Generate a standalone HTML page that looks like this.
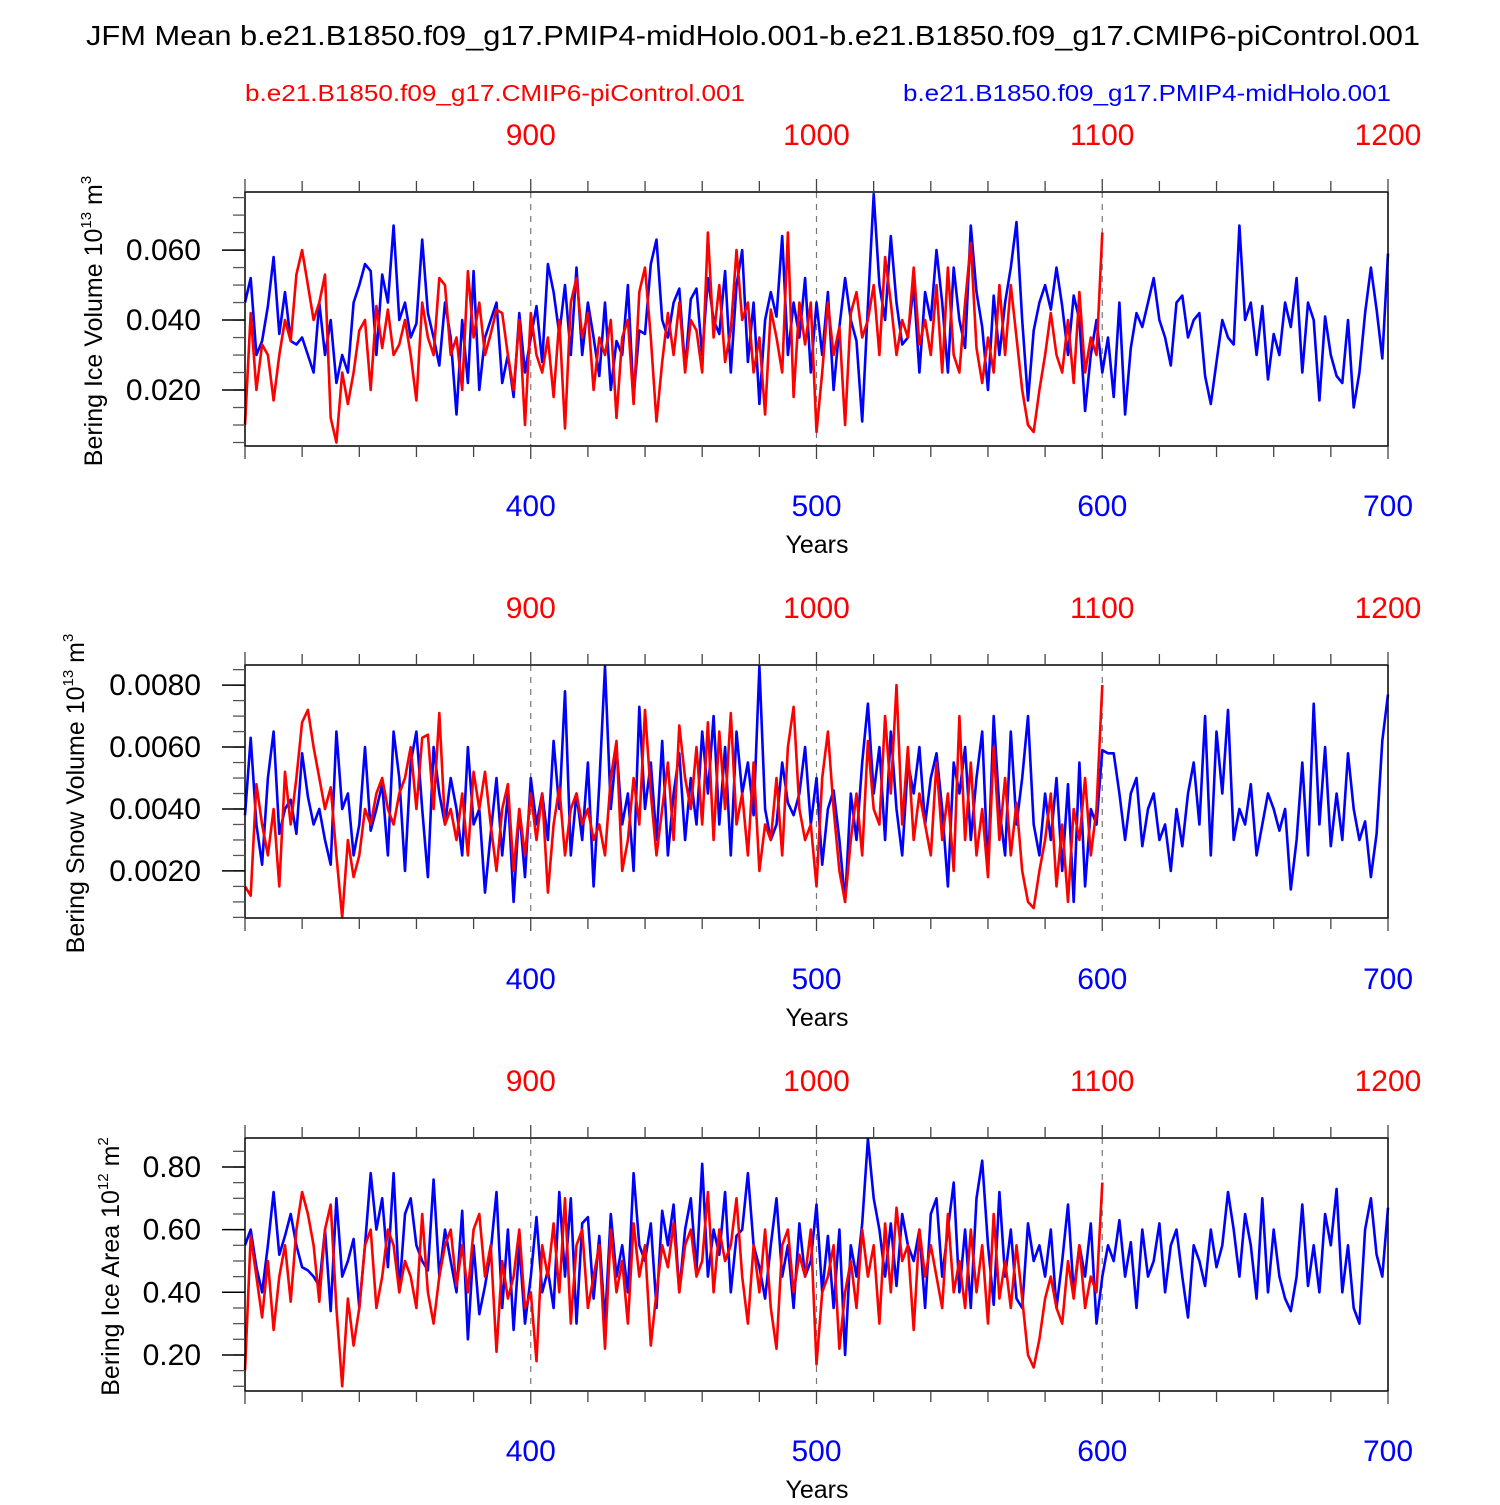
<!DOCTYPE html>
<html><head><meta charset="utf-8"><style>
body{margin:0;background:#fff}
svg text{font-family:"Liberation Sans",sans-serif}
</style></head><body>
<svg id="chart" width="1500" height="1500" xmlns="http://www.w3.org/2000/svg">
<text x="86" y="45" font-size="28" textLength="1334" lengthAdjust="spacingAndGlyphs">JFM Mean b.e21.B1850.f09_g17.PMIP4-midHolo.001-b.e21.B1850.f09_g17.CMIP6-piControl.001</text>
<text x="245" y="101" font-size="23" fill="#ff0000" textLength="500" lengthAdjust="spacingAndGlyphs">b.e21.B1850.f09_g17.CMIP6-piControl.001</text>
<text x="903" y="101" font-size="23" fill="#0000ff" textLength="488" lengthAdjust="spacingAndGlyphs">b.e21.B1850.f09_g17.PMIP4-midHolo.001</text>
</svg>
<script>
// Year axis data
const blueStart = 300, redStart = 300, yearStep = 2, redOffset = 500;
const bottomTicks = [400, 500, 600, 700];
const topTicks = [900, 1000, 1100, 1200];

// Panel 1: Bering Ice Volume
const p1Blue = [.045,.052,.030,.034,.044,.058,.036,.048,.034,.033,.035,.030,.025,.045,.030,.040,.022,.030,.025,.045,.050,
.056,.054,.030,.053,.045,.067,.040,.045,.035,.039,.063,.042,.035,.027,.045,.035,.013,.040,.022,.054,
.020,.035,.040,.045,.022,.030,.018,.042,.025,.035,.044,.028,.056,.048,.036,.050,.030,.055,.030,.045,
.035,.024,.045,.020,.034,.030,.050,.018,.037,.036,.056,.063,.040,.035,.045,.049,.026,.046,.049,.030,
.052,.040,.036,.054,.025,.050,.060,.028,.045,.016,.040,.048,.041,.064,.030,.045,.035,.052,.025,.045,
.030,.048,.020,.038,.052,.040,.034,.011,.044,.076,.050,.040,.064,.045,.033,.035,.050,.025,.048,.040,
.060,.045,.025,.055,.040,.032,.067,.048,.038,.020,.047,.030,.045,.055,.068,.040,.017,.037,.045,.050,
.043,.055,.044,.030,.047,.040,.014,.030,.040,.025,.035,.018,.045,.013,.032,.042,.038,.045,.052,.040,
.035,.027,.045,.047,.035,.040,.042,.024,.016,.028,.040,.035,.033,.067,.040,.045,.030,.044,.023,.036,
.030,.045,.038,.052,.025,.045,.040,.017,.041,.030,.024,.022,.040,.015,.025,.042,.055,.043,.029,.059];
const p1Red = [.010,.042,.020,.033,.030,.017,.030,.040,.034,.053,.060,.050,.040,.045,.053,.012,.005,.025,.016,.025,.037,
.040,.020,.044,.032,.043,.030,.033,.040,.030,.017,.045,.035,.030,.052,.050,.030,.035,.020,.054,.035,
.045,.030,.036,.043,.042,.030,.020,.040,.010,.042,.030,.025,.035,.018,.040,.009,.045,.052,.035,.042,
.020,.035,.030,.040,.012,.035,.040,.016,.048,.055,.035,.011,.028,.042,.030,.045,.025,.040,.037,.025,
.065,.035,.050,.028,.037,.060,.040,.045,.025,.035,.013,.043,.035,.025,.065,.018,.045,.033,.045,.008,
.025,.045,.030,.038,.010,.042,.048,.035,.040,.050,.030,.058,.045,.030,.040,.035,.055,.033,.040,.030,
.050,.025,.055,.030,.025,.045,.062,.032,.022,.035,.025,.050,.030,.050,.035,.020,.010,.008,.020,.030,
.042,.030,.025,.040,.022,.048,.025,.035,.030,.065];
const p1Ticks = [0.020, 0.040, 0.060];
const p1TickLabels = ["0.020", "0.040", "0.060"];

// Panel 2: Bering Snow Volume
const p2Blue = [.0038,.0063,.0035,.0022,.0050,.0065,.0032,.0040,.0043,.0032,.0058,.0044,.0035,.0040,.0030,.0022,.0065,.0040,.0045,.0025,.0035,
.0060,.0033,.0040,.0048,.0025,.0065,.0050,.0020,.0055,.0065,.0040,.0018,.0060,.0045,.0035,.0050,.0040,.0025,.0060,.0035,
.0040,.0013,.0032,.0050,.0025,.0045,.0010,.0040,.0018,.0050,.0035,.0045,.0030,.0062,.0040,.0078,.0025,.0045,.0030,.0055,
.0015,.0048,.0086,.0040,.0060,.0035,.0045,.0020,.0073,.0040,.0055,.0030,.0062,.0025,.0045,.0058,.0030,.0050,.0035,.0065,
.0045,.0070,.0035,.0060,.0025,.0065,.0045,.0055,.0038,.0086,.0040,.0030,.0035,.0055,.0042,.0038,.0045,.0060,.0035,.0050,
.0022,.0040,.0046,.0030,.0010,.0045,.0030,.0055,.0074,.0045,.0060,.0030,.0065,.0040,.0025,.0055,.0045,.0060,.0035,.0050,
.0058,.0040,.0015,.0055,.0045,.0060,.0030,.0050,.0065,.0020,.0070,.0040,.0025,.0065,.0035,.0050,.0070,.0035,.0025,.0045,
.0030,.0050,.0020,.0048,.0010,.0055,.0015,.0040,.0035,.0059,.0058,.0058,.0045,.0030,.0045,.0050,.0028,.0040,.0045,.0030,
.0035,.0020,.0040,.0028,.0045,.0055,.0035,.0070,.0025,.0065,.0045,.0072,.0030,.0040,.0035,.0048,.0025,.0035,.0045,.0040,
.0033,.0040,.0014,.0030,.0055,.0025,.0074,.0035,.0060,.0028,.0045,.0030,.0058,.0040,.0030,.0036,.0018,.0032,.0062,.0077];
const p2Red = [.0015,.0012,.0048,.0035,.0025,.0040,.0015,.0052,.0035,.0050,.0068,.0072,.0060,.0050,.0040,.0047,.0025,.0005,.0030,.0018,.0025,
.0040,.0035,.0045,.0050,.0040,.0035,.0045,.0050,.0060,.0040,.0063,.0064,.0040,.0071,.0035,.0040,.0030,.0045,.0025,.0052,
.0040,.0052,.0035,.0020,.0040,.0048,.0020,.0040,.0025,.0045,.0030,.0045,.0013,.0035,.0047,.0025,.0040,.0045,.0035,.0040,
.0030,.0035,.0025,.0050,.0062,.0020,.0030,.0050,.0035,.0072,.0045,.0025,.0040,.0055,.0030,.0067,.0050,.0040,.0060,.0035,
.0068,.0030,.0065,.0040,.0071,.0035,.0045,.0025,.0055,.0020,.0035,.0030,.0050,.0025,.0060,.0073,.0040,.0030,.0035,.0015,
.0050,.0065,.0040,.0020,.0010,.0030,.0045,.0025,.0062,.0040,.0035,.0070,.0045,.0080,.0035,.0060,.0030,.0045,.0035,.0025,
.0055,.0030,.0045,.0020,.0070,.0030,.0055,.0025,.0040,.0018,.0060,.0030,.0050,.0025,.0042,.0020,.0010,.0008,.0020,.0030,
.0045,.0015,.0035,.0010,.0040,.0030,.0050,.0025,.0040,.0080];
const p2Ticks = [0.002, 0.004, 0.006, 0.008];
const p2TickLabels = ["0.0020", "0.0040", "0.0060", "0.0080"];

// Panel 3: Bering Ice Area
const p3Blue = [.55,.60,.48,.40,.55,.72,.52,.58,.65,.55,.48,.47,.45,.42,.60,.34,.70,.45,.50,.57,.35,
.55,.78,.60,.70,.48,.78,.40,.65,.70,.55,.50,.47,.76,.45,.60,.50,.40,.66,.25,.55,
.33,.42,.53,.72,.35,.60,.28,.55,.30,.45,.64,.40,.47,.35,.72,.45,.70,.30,.62,.64,
.38,.58,.30,.65,.45,.55,.40,.78,.55,.50,.62,.35,.66,.55,.68,.40,.60,.70,.47,.81,
.45,.60,.52,.72,.40,.58,.60,.78,.55,.48,.38,.55,.70,.45,.55,.35,.62,.45,.50,.68,
.40,.58,.35,.60,.20,.55,.45,.62,.89,.70,.60,.45,.62,.42,.65,.55,.50,.60,.35,.65,
.70,.45,.60,.75,.40,.60,.35,.70,.82,.55,.36,.72,.45,.60,.38,.35,.62,.50,.55,.45,
.60,.35,.50,.68,.40,.55,.45,.62,.30,.45,.55,.50,.63,.45,.56,.35,.60,.45,.50,.62,
.40,.55,.60,.45,.32,.55,.50,.42,.60,.48,.55,.72,.60,.45,.65,.55,.38,.70,.40,.60,
.45,.38,.34,.45,.68,.42,.55,.40,.65,.55,.73,.40,.55,.35,.30,.60,.70,.52,.45,.67];
const p3Red = [.15,.58,.45,.32,.50,.28,.45,.55,.37,.60,.72,.65,.55,.37,.60,.68,.35,.10,.38,.23,.35,
.55,.60,.35,.45,.60,.55,.40,.50,.45,.35,.65,.40,.30,.45,.55,.60,.42,.55,.40,.60,
.65,.45,.55,.21,.50,.38,.45,.60,.35,.40,.18,.55,.45,.62,.40,.70,.30,.55,.60,.35,
.45,.55,.22,.60,.40,.50,.30,.62,.45,.55,.23,.40,.55,.48,.62,.40,.55,.60,.45,.50,
.72,.40,.60,.50,.55,.70,.45,.30,.55,.40,.60,.35,.22,.55,.60,.40,.52,.45,.60,.17,
.40,.45,.55,.22,.40,.50,.35,.60,.45,.55,.30,.62,.40,.67,.50,.55,.28,.60,.45,.55,
.45,.35,.65,.40,.50,.35,.60,.40,.55,.30,.65,.38,.50,.35,.55,.38,.20,.16,.25,.38,
.45,.35,.30,.50,.38,.55,.35,.45,.40,.75];
const p3Ticks = [0.2, 0.4, 0.6, 0.8];
const p3TickLabels = ["0.20", "0.40", "0.60", "0.80"];

const NS = "http://www.w3.org/2000/svg";
const svg = document.getElementById("chart");
const X0 = 245, X1 = 1388, YR0 = 300, YR1 = 700;
function xScale(yr){ return X0 + (yr - YR0) / (YR1 - YR0) * (X1 - X0); }
function mk(tag, attrs, parent){ const e = document.createElementNS(NS, tag); for (const k in attrs) e.setAttribute(k, attrs[k]); (parent||svg).appendChild(e); return e; }

const panels = [
 {key:"ice-volume", top:192, bot:446, vmin:0.004, vmax:0.0766, minor:0.005, blue:p1Blue, red:p1Red, ticks:p1Ticks, labels:p1TickLabels, ylab:["Bering Ice Volume 10","13"," m","3"], ylx:102, topLab:145, botLab:516, years:553},
 {key:"snow-volume", top:665, bot:918, vmin:0.00048, vmax:0.00865, minor:0.0005, blue:p2Blue, red:p2Red, ticks:p2Ticks, labels:p2TickLabels, ylab:["Bering Snow Volume 10","13"," m","3"], ylx:84, topLab:618, botLab:989, years:1026},
 {key:"ice-area", top:1138, bot:1391, vmin:0.085, vmax:0.8925, minor:0.05, blue:p3Blue, red:p3Red, ticks:p3Ticks, labels:p3TickLabels, ylab:["Bering Ice Area 10","12"," m","2"], ylx:119, topLab:1091, botLab:1461, years:1498}
];

panels.forEach(p => {
  const g = mk("g", {});
  
  
  const yS = v => p.bot - (v - p.vmin) / (p.vmax - p.vmin) * (p.bot - p.top);
  [400, 500, 600].forEach(yr => {
    const l = mk("line", {x1:xScale(yr), x2:xScale(yr), y1:p.top, y2:p.bot, stroke:"#777", "stroke-width":1.2, "stroke-dasharray":"6,6"}, g);
    
    
  });
  function series(arr, start, color, name){
    const pts = arr.map((v,i) => xScale(start + i*yearStep).toFixed(1) + "," + yS(v).toFixed(1)).join(" ");
    const pl = mk("polyline", {points:pts, fill:"none", stroke:color, "stroke-width":2.6, "stroke-linejoin":"round"}, g);
    
    
  }
  series(p.blue, blueStart, "#0000ff", "line-midholo");
  series(p.red, redStart, "#ff0000", "line-picontrol");
  const fr = mk("rect", {x:X0, y:p.top, width:X1-X0, height:p.bot-p.top, fill:"none", stroke:"#000", "stroke-width":1.5}, g);
  
  
  for (let yr = YR0; yr <= YR1; yr += 20) {
    const x = xScale(yr), L = (yr % 100 === 0) ? 13 : 11;
    mk("line", {x1:x, x2:x, y1:p.top, y2:p.top-L, stroke:"#444", "stroke-width":1.3}, g);
    mk("line", {x1:x, x2:x, y1:p.bot, y2:p.bot+L, stroke:"#444", "stroke-width":1.3}, g);
  }
  bottomTicks.forEach(t => {
    const tx = mk("text", {x:xScale(t), y:p.botLab, "font-size":30, fill:"#0000ff", "text-anchor":"middle"}, g);
    tx.textContent = t;
    
    
  });
  topTicks.forEach(t => {
    const tx = mk("text", {x:xScale(t - redOffset), y:p.topLab, "font-size":30, fill:"#ff0000", "text-anchor":"middle"}, g);
    tx.textContent = t;
    
    
  });
  const yt = mk("text", {x:817, y:p.years, "font-size":25, "text-anchor":"middle"}, g);
  yt.textContent = "Years";
  
  
  const n0 = Math.ceil(p.vmin / p.minor - 1e-9), n1 = Math.floor(p.vmax / p.minor + 1e-9);
  for (let n = n0; n <= n1; n++) {
    const y = yS(n * p.minor);
    mk("line", {x1:X0, x2:X0-12, y1:y, y2:y, stroke:"#555", "stroke-width":1.3}, g);
  }
  p.ticks.forEach((t,i) => {
    const y = yS(t);
    mk("line", {x1:X0, x2:X0-23, y1:y, y2:y, stroke:"#000", "stroke-width":1.5}, g);
    const tx = mk("text", {x:201, y:y+10, "font-size":30, "text-anchor":"end"}, g);
    tx.textContent = p.labels[i];
    
    
  });
  const cy = (p.top + p.bot) / 2 + 2;
  const yl = mk("text", {x:0, y:0, "font-size":25, "text-anchor":"middle", transform:"translate(" + p.ylx + "," + cy + ") rotate(-90)"}, g);
  
  
  p.ylab.forEach((s,i) => {
    const ts = mk("tspan", {}, yl);
    if (i % 2 === 1) { ts.setAttribute("font-size", "15"); ts.setAttribute("dy", "-11"); }
    else if (i > 0) { ts.setAttribute("dy", "11"); }
    ts.textContent = s;
  });
});
</script>
</body></html>
